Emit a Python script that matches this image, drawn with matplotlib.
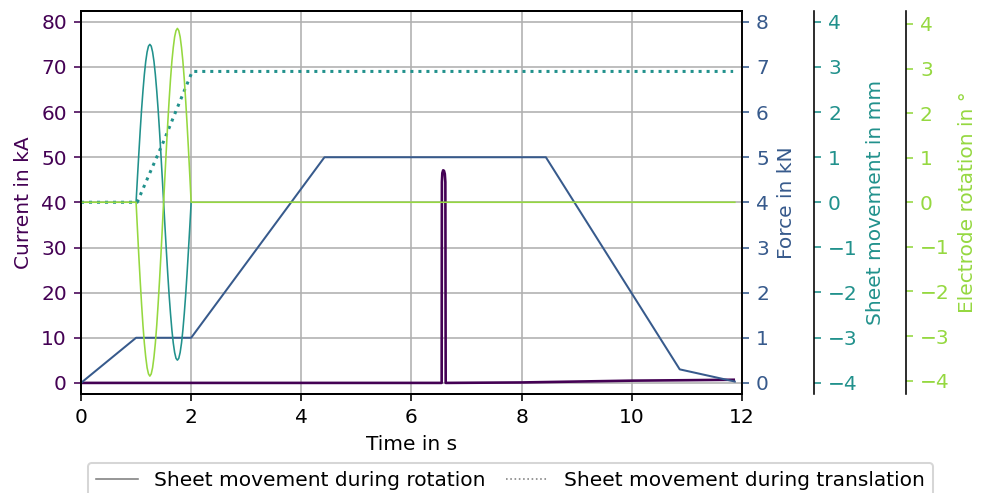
import matplotlib
matplotlib.use("Agg")
import matplotlib.pyplot as plt
from matplotlib.lines import Line2D

# ---- data ----
current_t = [0.0, 6.0, 6.548, 6.552, 6.56, 6.575, 6.59, 6.605, 6.615, 6.621, 6.63, 8.0, 9.0, 10.0, 11.0, 11.85]
current_kA = [0.0, 0.0, 0.0, 44.5, 46.5, 47.1, 47.0, 46.3, 44.5, 0.0, 0.0, 0.1, 0.3, 0.5, 0.6, 0.7]

force_t = [0.0, 1.0, 2.0, 4.42, 8.44, 10.87, 11.87]
force_kN = [0.0, 1.0, 1.0, 5.0, 5.0, 0.3, 0.03]

rot_t = [1.000, 1.025, 1.050, 1.075, 1.100, 1.125, 1.150, 1.175, 1.200, 1.225,
         1.250, 1.275, 1.300, 1.325, 1.350, 1.375, 1.400, 1.425, 1.450, 1.475,
         1.500, 1.525, 1.550, 1.575, 1.600, 1.625, 1.650, 1.675, 1.700, 1.725,
         1.750, 1.775, 1.800, 1.825, 1.850, 1.875, 1.900, 1.925, 1.950, 1.975, 2.000]
sheet_rot_mm = [0.0, 0.55, 1.08, 1.59, 2.06, 2.47, 2.83, 3.12, 3.33, 3.46,
                3.50, 3.46, 3.33, 3.12, 2.83, 2.47, 2.06, 1.59, 1.08, 0.55,
                0.0, -0.55, -1.08, -1.59, -2.06, -2.47, -2.83, -3.12, -3.33, -3.46,
                -3.50, -3.46, -3.33, -3.12, -2.83, -2.47, -2.06, -1.59, -1.08, -0.55, 0.0]

sheet_trans_t = [0.0, 1.02, 1.25, 1.5, 1.75, 2.02, 11.84]
sheet_trans_mm = [0.0, 0.0, 0.65, 1.35, 2.1, 2.9, 2.9]

elec_t = [0.0] + rot_t + [11.87]
elec_deg = [0.0,
            0.0, -0.61, -1.21, -1.77, -2.29, -2.76, -3.16, -3.47, -3.71, -3.85,
            -3.90, -3.85, -3.71, -3.47, -3.16, -2.76, -2.29, -1.77, -1.21, -0.61,
            0.0, 0.61, 1.21, 1.77, 2.29, 2.76, 3.16, 3.47, 3.71, 3.85,
            3.90, 3.85, 3.71, 3.47, 3.16, 2.76, 2.29, 1.77, 1.21, 0.61, 0.0,
            0.0]

x_ticks = [0, 2, 4, 6, 8, 10, 12]
current_ticks = [0, 10, 20, 30, 40, 50, 60, 70, 80]
force_ticks = [0, 1, 2, 3, 4, 5, 6, 7, 8]
pm4_ticks = [-4, -3, -2, -1, 0, 1, 2, 3, 4]

# ---- style ----
cmap = plt.get_cmap("viridis")
c_cur = cmap(0.0)
c_force = cmap(0.28)
c_sheet = cmap(0.5)
c_elec = cmap(0.84)
plt.rcParams["font.family"] = ["DejaVu Sans"]
plt.rcParams["font.size"] = 10

DPI = 145
fig = plt.figure(figsize=(983 / DPI, 493 / DPI), dpi=DPI)
ax = fig.add_axes([0.0824, 0.2018, 0.6724, 0.7759])

ax.grid(True, color="#b0b0b0", linewidth=0.8, zorder=0)
ax.set_axisbelow(True)
ax.plot(current_t, current_kA, color=c_cur, linewidth=1.3, zorder=3)
ax.set_xlim(0, 12)
ax.set_ylim(-2.35, 82.4)
ax.set_xticks(x_ticks)
ax.set_yticks(current_ticks)
ax.set_xlabel("Time in s")
ax.set_ylabel("Current in kA", color=c_cur)
ax.tick_params(axis="y", colors=c_cur)

ax2 = ax.twinx()
ax2.plot(force_t, force_kN, color=c_force, linewidth=1.0)
ax2.set_ylim(-0.235, 8.24)
ax2.set_yticks(force_ticks)
ax2.set_ylabel("Force in kN", color=c_force)
ax2.tick_params(axis="y", colors=c_force)

ax3 = ax.twinx()
ax3.spines["right"].set_position(("axes", 1.109))
ax3.plot(rot_t, sheet_rot_mm, color=c_sheet, linewidth=0.8)
ax3.plot(sheet_trans_t, sheet_trans_mm, color=c_sheet, linewidth=1.5, linestyle=":")
ax3.set_ylim(-4.24, 4.24)
ax3.set_yticks(pm4_ticks)
ax3.set_ylabel("Sheet movement in mm", color=c_sheet)
ax3.tick_params(axis="y", colors=c_sheet)

ax4 = ax.twinx()
ax4.spines["right"].set_position(("axes", 1.248))
ax4.plot(elec_t, elec_deg, color=c_elec, linewidth=0.8)
ax4.set_ylim(-4.29, 4.29)
ax4.set_yticks(pm4_ticks)
ax4.set_ylabel("Electrode rotation in °", color=c_elec)
ax4.tick_params(axis="y", colors=c_elec)

for a in (ax2, ax3, ax4):
    a.set_xlim(0, 12)
    a.spines["right"].set_color("black")

handles = [Line2D([], [], color="gray", linewidth=0.8, linestyle="-"),
           Line2D([], [], color="gray", linewidth=0.8, linestyle=":")]
labels = ["Sheet movement during rotation", "Sheet movement during translation"]
fig.legend(handles, labels, loc="upper center", bbox_to_anchor=(0.5193, 0.0609),
           ncol=2, frameon=True, handlelength=2.1, columnspacing=1.0,
           borderaxespad=0.0)

fig.savefig("out.png", dpi=DPI)
